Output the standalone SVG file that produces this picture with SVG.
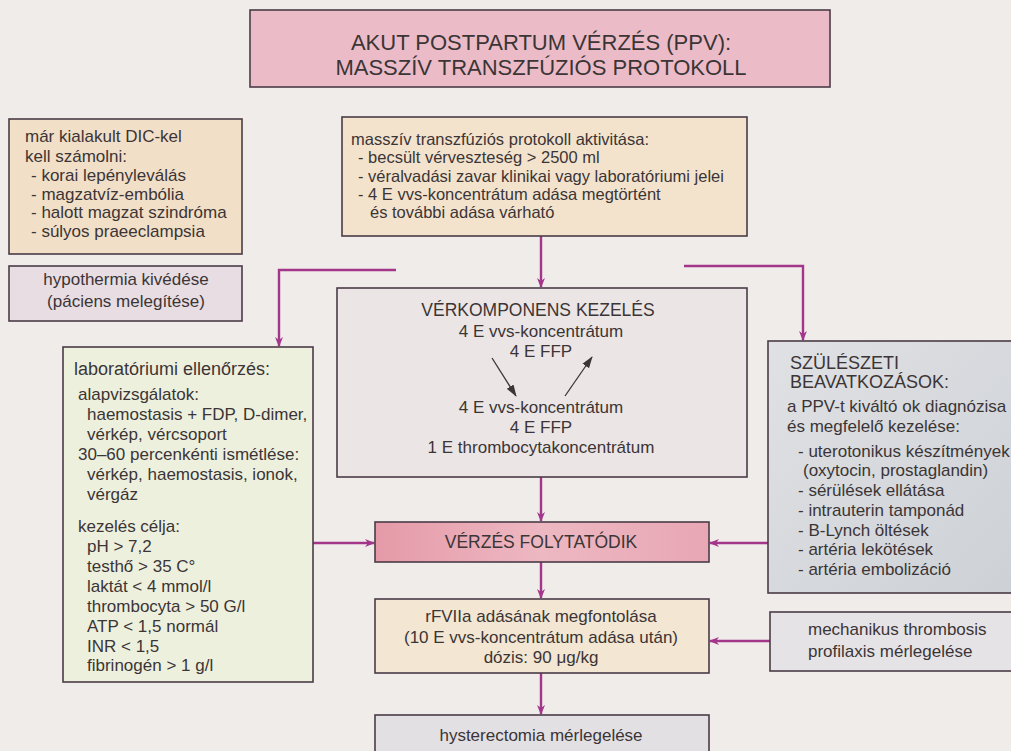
<svg xmlns="http://www.w3.org/2000/svg" width="1011" height="751" viewBox="0 0 1011 751">
<defs>
<style>
.box{stroke:#4a3b47;stroke-width:1.6}
.t{font-family:"Liberation Sans",Arial,sans-serif;font-size:17px;fill:#3b3536}
.h{font-size:18px}
.m{font-size:16.5px}
.c{text-anchor:middle}
.con{fill:none;stroke:#a3368a;stroke-width:2.4}
.sm{fill:none;stroke:#3b3536;stroke-width:1.3}
</style>
<marker id="ah" markerWidth="10" markerHeight="14" refX="9" refY="5" orient="auto" markerUnits="userSpaceOnUse" viewBox="0 0 10 10">
<path d="M0,1 L10,5 L0,9 L3,5 Z" fill="#a3368a"/>
</marker>
<marker id="ahs" markerWidth="12" markerHeight="10" refX="11" refY="5" orient="auto" markerUnits="userSpaceOnUse" viewBox="0 0 12 10">
<path d="M0,1 L12,5 L0,9 Z" fill="#3b3536"/>
</marker>
<linearGradient id="gPink" x1="0" y1="0" x2="1" y2="0">
<stop offset="0" stop-color="#e59aa8"/><stop offset="0.5" stop-color="#edb8c2"/><stop offset="1" stop-color="#e8a7b4"/>
</linearGradient>
<linearGradient id="gGray" x1="0" y1="0" x2="1" y2="1">
<stop offset="0" stop-color="#e0e1e4"/><stop offset="1" stop-color="#cdd1d6"/>
</linearGradient>
</defs>
<rect width="1011" height="751" fill="#efece9"/>

<g id="connectors">
<line class="con" x1="541" y1="236" x2="541" y2="287" marker-end="url(#ah)"/>
<polyline class="con" points="396,270 279,270 279,346" marker-end="url(#ah)"/>
<polyline class="con" points="684,266 803,266 803,340" marker-end="url(#ah)"/>
<line class="con" x1="541" y1="477" x2="541" y2="521" marker-end="url(#ah)"/>
<line class="con" x1="313" y1="543" x2="374" y2="543" marker-end="url(#ah)"/>
<line class="con" x1="768" y1="543" x2="710" y2="543" marker-end="url(#ah)"/>
<line class="con" x1="541" y1="562" x2="541" y2="598" marker-end="url(#ah)"/>
<line class="con" x1="770" y1="641" x2="710" y2="641" marker-end="url(#ah)"/>
<line class="con" x1="541" y1="673" x2="541" y2="714" marker-end="url(#ah)"/>
</g>

<g id="title">
<rect class="box" x="250" y="10" width="580" height="77" fill="#ebbcc8"/>
<text class="t c" x="541" y="50" style="font-size:22px">AKUT POSTPARTUM VÉRZÉS (PPV):</text>
<text class="t c" x="541" y="75" style="font-size:22px">MASSZÍV TRANSZFÚZIÓS PROTOKOLL</text>
</g>

<g id="dic">
<rect class="box" x="9" y="119" width="233" height="135" fill="#f2dfc8"/>
<text class="t" x="25" y="142">már kialakult DIC-kel</text>
<text class="t" x="25" y="162">kell számolni:</text>
<text class="t" x="31" y="181">- korai lepényleválás</text>
<text class="t" x="31" y="200">- magzatvíz-embólia</text>
<text class="t" x="31" y="218">- halott magzat szindróma</text>
<text class="t" x="31" y="237">- súlyos praeeclampsia</text>
</g>

<g id="hypothermia">
<rect class="box" x="9" y="266" width="233" height="55" fill="#e8dde3"/>
<text class="t c" x="126" y="285">hypothermia kivédése</text>
<text class="t c" x="126" y="307">(páciens melegítése)</text>
</g>

<g id="activation">
<rect class="box" x="342" y="117" width="405" height="119" fill="#f3e3cd"/>
<text class="t m" x="351" y="145">masszív transzfúziós protokoll aktivitása:</text>
<text class="t m" x="358" y="163">- becsült vérveszteség &gt; 2500 ml</text>
<text class="t m" x="358" y="182">- véralvadási zavar klinikai vagy laboratóriumi jelei</text>
<text class="t m" x="358" y="200">- 4 E vvs-koncentrátum adása megtörtént</text>
<text class="t m" x="370" y="218">és további adása várható</text>
</g>

<g id="blood">
<rect class="box" x="337" y="288" width="410" height="189" fill="#ece5e5"/>
<text class="t c" x="538" y="316" style="font-size:17.5px">VÉRKOMPONENS KEZELÉS</text>
<text class="t c" x="541" y="337">4 E vvs-koncentrátum</text>
<text class="t c" x="541" y="357">4 E FFP</text>
<line class="sm" x1="492" y1="358" x2="516" y2="396" marker-end="url(#ahs)"/>
<line class="sm" x1="565" y1="396" x2="592" y2="357" marker-end="url(#ahs)"/>
<text class="t c" x="541" y="413">4 E vvs-koncentrátum</text>
<text class="t c" x="541" y="433">4 E FFP</text>
<text class="t c" x="541" y="453">1 E thrombocytakoncentrátum</text>
</g>

<g id="lab">
<rect class="box" x="63" y="347" width="250" height="335" fill="#eef0de"/>
<text class="t h" x="74" y="375">laboratóriumi ellenőrzés:</text>
<text class="t" x="78" y="400">alapvizsgálatok:</text>
<text class="t" x="87" y="420">haemostasis + FDP, D-dimer,</text>
<text class="t" x="87" y="440">vérkép, vércsoport</text>
<text class="t" x="78" y="460">30–60 percenkénti ismétlése:</text>
<text class="t" x="87" y="480">vérkép, haemostasis, ionok,</text>
<text class="t" x="87" y="500">vérgáz</text>
<text class="t" x="78" y="532">kezelés célja:</text>
<text class="t" x="87" y="552">pH &gt; 7,2</text>
<text class="t" x="87" y="572">testhő &gt; 35 C°</text>
<text class="t" x="87" y="592">laktát &lt; 4 mmol/l</text>
<text class="t" x="87" y="612">thrombocyta &gt; 50 G/l</text>
<text class="t" x="87" y="632">ATP &lt; 1,5 normál</text>
<text class="t" x="87" y="652">INR &lt; 1,5</text>
<text class="t" x="87" y="671">fibrinogén &gt; 1 g/l</text>
</g>

<g id="obstetric">
<rect class="box" x="768" y="341" width="250" height="252" fill="url(#gGray)"/>
<text class="t h" x="790" y="369">SZÜLÉSZETI</text>
<text class="t h" x="790" y="388">BEAVATKOZÁSOK:</text>
<text class="t" x="787" y="412">a PPV-t kiváltó ok diagnózisa</text>
<text class="t" x="787" y="432">és megfelelő kezelése:</text>
<text class="t" x="798" y="457">- uterotonikus készítmények</text>
<text class="t" x="803" y="476">(oxytocin, prostaglandin)</text>
<text class="t" x="798" y="496">- sérülések ellátása</text>
<text class="t" x="798" y="516">- intrauterin tamponád</text>
<text class="t" x="798" y="536">- B-Lynch öltések</text>
<text class="t" x="798" y="555">- artéria lekötések</text>
<text class="t" x="798" y="575">- artéria embolizáció</text>
</g>

<g id="bleeding">
<rect class="box" x="375" y="522" width="334" height="40" fill="url(#gPink)"/>
<text class="t c" x="541" y="548" style="font-size:17.5px">VÉRZÉS FOLYTATÓDIK</text>
</g>

<g id="rfviia">
<rect class="box" x="375" y="599" width="334" height="74" fill="#f3e6d2"/>
<text class="t c" x="541" y="622">rFVIIa adásának megfontolása</text>
<text class="t c" x="541" y="643">(10 E vvs-koncentrátum adása után)</text>
<text class="t c" x="541" y="663">dózis: 90 μg/kg</text>
</g>

<g id="thrombosis">
<rect class="box" x="770" y="612" width="250" height="59" fill="#e6e3e6"/>
<text class="t" x="808" y="635">mechanikus thrombosis</text>
<text class="t" x="808" y="657">profilaxis mérlegelése</text>
</g>

<g id="hysterectomy">
<rect class="box" x="375" y="715" width="334" height="45" fill="#e3e0e4"/>
<text class="t c" x="541" y="741">hysterectomia mérlegelése</text>
</g>
</svg>
